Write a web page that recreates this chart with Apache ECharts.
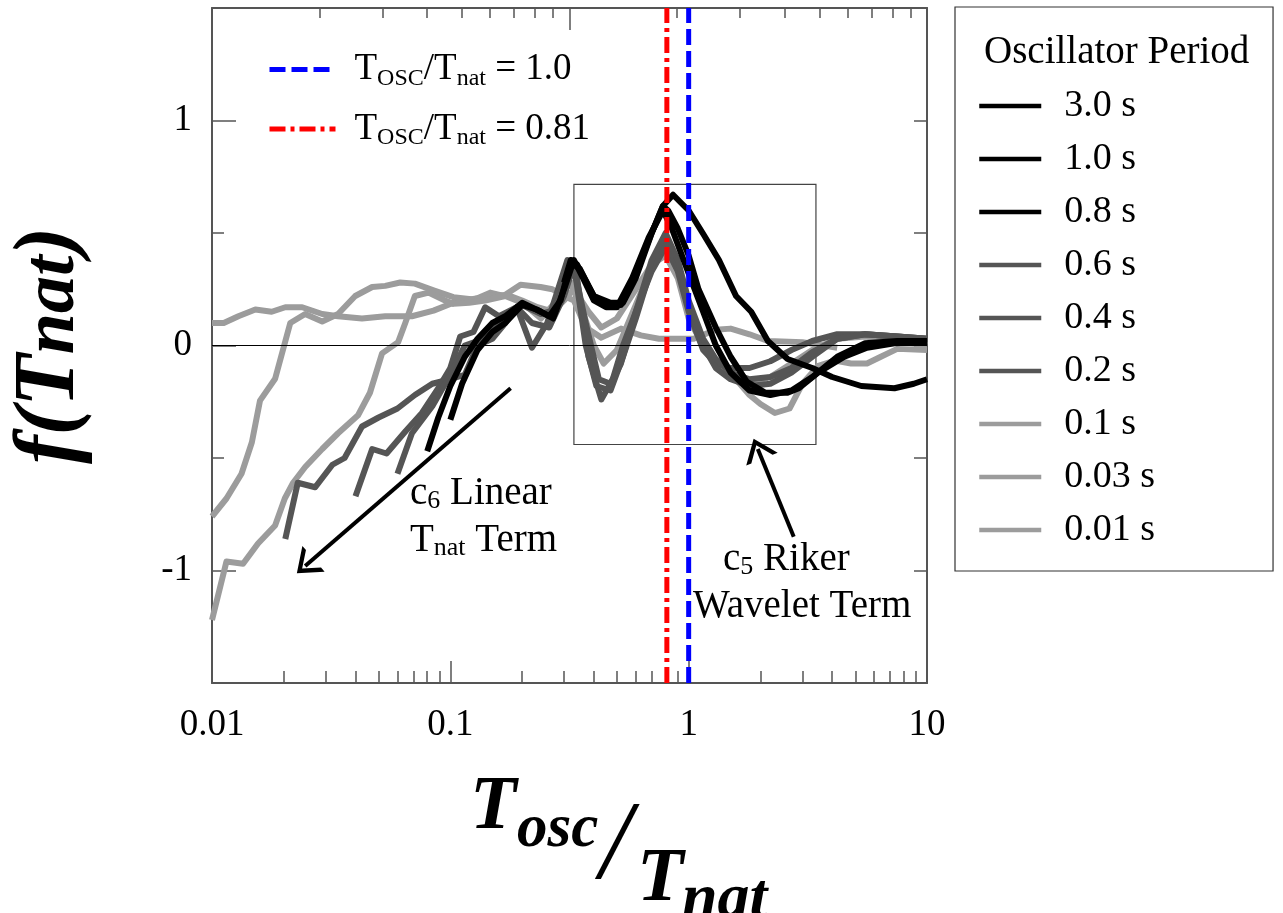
<!DOCTYPE html>
<html>
<head>
<meta charset="utf-8">
<title>f(Tnat)</title>
<script src="https://cdn.jsdelivr.net/npm/echarts@6/dist/echarts.min.js"></script>
</head>
<body style="margin:0;background:#fff">
<div id="chart" style="width:1283px;height:913px"></div>
<script>
// curves: [Tosc/Tnat, f(Tnat)] for each oscillator period
var p300 = [[0.30,0.28],[0.32,0.38],[0.34,0.36],[0.4,0.22],[0.47,0.19],[0.53,0.19],[0.6,0.3],[0.7,0.5],[0.78,0.62],[0.86,0.67],[1.0,0.6],[1.16,0.49],[1.34,0.38],[1.58,0.22],[1.83,0.15],[2.15,0.02],[2.6,-0.06],[3.3,-0.10],[4.0,-0.14],[5.3,-0.18],[7.3,-0.19],[8.8,-0.17],[10,-0.15]];
var p100 = [[0.1,-0.33],[0.112,-0.17],[0.13,-0.02],[0.15,0.06],[0.17,0.1],[0.2,0.18],[0.23,0.16],[0.26,0.13],[0.29,0.2],[0.32,0.37],[0.35,0.34],[0.4,0.22],[0.46,0.18],[0.52,0.18],[0.6,0.32],[0.7,0.5],[0.78,0.62],[0.82,0.6],[0.9,0.52],[1.0,0.4],[1.1,0.25],[1.3,0.08],[1.5,-0.05],[1.75,-0.16],[2.1,-0.21],[2.6,-0.21],[2.9,-0.19],[3.5,-0.12],[4.5,-0.05],[5.6,-0.01],[7.3,0.01],[10,0.015]];
var p080 = [[0.08,-0.47],[0.089,-0.32],[0.1,-0.18],[0.115,-0.05],[0.13,0.03],[0.15,0.1],[0.17,0.13],[0.2,0.19],[0.24,0.15],[0.27,0.12],[0.3,0.25],[0.33,0.38],[0.36,0.3],[0.4,0.2],[0.45,0.17],[0.5,0.17],[0.58,0.3],[0.68,0.48],[0.78,0.6],[0.85,0.52],[1.0,0.32],[1.15,0.15],[1.3,0.0],[1.5,-0.12],[1.8,-0.2],[2.2,-0.22],[2.7,-0.2],[3.3,-0.14],[4.2,-0.05],[5.5,0.01],[7.5,0.02],[10,0.02]];
var p060 = [[0.06,-0.57],[0.069,-0.39],[0.084,-0.27],[0.1,-0.13],[0.115,0.0],[0.13,0.02],[0.15,0.08],[0.18,0.15],[0.2,0.18],[0.24,0.14],[0.28,0.16],[0.33,0.35],[0.37,0.1],[0.42,-0.15],[0.47,-0.17],[0.52,-0.08],[0.6,0.15],[0.7,0.38],[0.8,0.5],[0.9,0.38],[1.0,0.2],[1.15,0.03],[1.3,-0.06],[1.5,-0.12],[1.8,-0.15],[2.2,-0.14],[2.7,-0.1],[3.3,-0.03],[4.2,0.03],[5.5,0.05],[7.5,0.04],[10,0.03]];
var p040 = [[0.04,-0.67],[0.047,-0.46],[0.054,-0.48],[0.065,-0.38],[0.076,-0.3],[0.089,-0.19],[0.1,-0.1],[0.11,0.04],[0.125,0.06],[0.14,0.17],[0.16,0.13],[0.19,0.17],[0.22,0.1],[0.26,0.08],[0.3,0.22],[0.33,0.36],[0.37,0.0],[0.41,-0.18],[0.47,-0.2],[0.53,-0.05],[0.6,0.12],[0.7,0.35],[0.8,0.47],[0.9,0.35],[1.0,0.18],[1.15,0.0],[1.3,-0.1],[1.5,-0.15],[1.8,-0.18],[2.2,-0.17],[2.7,-0.12],[3.3,-0.05],[4.2,0.03],[5.5,0.05],[7.5,0.04],[10,0.03]];
var p020 = [[0.0203,-0.86],[0.0229,-0.61],[0.0271,-0.63],[0.032,-0.53],[0.036,-0.5],[0.0426,-0.36],[0.05,-0.32],[0.06,-0.28],[0.071,-0.22],[0.084,-0.17],[0.1,-0.15],[0.115,-0.13],[0.13,0.0],[0.15,0.03],[0.17,0.1],[0.19,0.17],[0.22,-0.01],[0.255,0.1],[0.31,0.38],[0.34,0.3],[0.38,-0.05],[0.43,-0.24],[0.48,-0.15],[0.53,0.0],[0.6,0.15],[0.7,0.33],[0.8,0.44],[0.9,0.33],[1.0,0.15],[1.15,-0.02],[1.3,-0.08],[1.5,-0.1],[1.8,-0.1],[2.2,-0.07],[2.7,-0.02],[3.3,0.02],[4.2,0.05],[5.5,0.05],[7.5,0.04],[10,0.03]];
var p010 = [[0.01,-1.22],[0.0115,-0.96],[0.0135,-0.97],[0.0156,-0.88],[0.0184,-0.8],[0.0202,-0.68],[0.0219,-0.61],[0.0246,-0.54],[0.029,-0.46],[0.0338,-0.39],[0.041,-0.31],[0.046,-0.21],[0.0517,-0.035],[0.0604,0.015],[0.0647,0.1],[0.071,0.22],[0.081,0.235],[0.095,0.2],[0.103,0.185],[0.12,0.19],[0.14,0.2],[0.17,0.22],[0.2,0.19],[0.24,0.12],[0.28,0.2],[0.32,0.28],[0.36,0.15],[0.4,0.0],[0.44,-0.08],[0.5,-0.02],[0.6,0.18],[0.7,0.35],[0.8,0.45],[0.88,0.38],[1.0,0.18],[1.15,0.02],[1.35,-0.1],[1.55,-0.14],[1.8,-0.22],[2.0,-0.26],[2.3,-0.3],[2.65,-0.28],[3.0,-0.17],[3.5,-0.09],[4.1,-0.067],[4.8,-0.08],[5.6,-0.08],[6.4,-0.05],[7.5,-0.015],[10,-0.02]];
var p003 = [[0.01,-0.76],[0.0115,-0.68],[0.0133,-0.57],[0.0147,-0.43],[0.0159,-0.245],[0.0184,-0.148],[0.0213,0.1],[0.0246,0.14],[0.029,0.107],[0.0338,0.14],[0.0399,0.22],[0.047,0.26],[0.0533,0.265],[0.0616,0.28],[0.071,0.275],[0.085,0.245],[0.103,0.215],[0.125,0.205],[0.143,0.22],[0.173,0.225],[0.2,0.2],[0.232,0.17],[0.27,0.15],[0.3,0.2],[0.33,0.25],[0.38,0.15],[0.43,0.08],[0.5,0.12],[0.6,0.25],[0.7,0.36],[0.8,0.4],[0.9,0.3],[1.0,0.12],[1.15,0.0],[1.3,-0.08],[1.5,-0.14],[1.8,-0.17],[2.2,-0.14],[2.7,-0.08],[3.3,-0.02],[4.2,0.03],[5.5,0.04],[7.5,0.02],[10,0.0]];
var p001 = [[0.01,0.1],[0.0112,0.1],[0.0129,0.13],[0.0152,0.16],[0.0178,0.15],[0.0203,0.17],[0.0239,0.17],[0.029,0.14],[0.0338,0.13],[0.0426,0.12],[0.0533,0.13],[0.069,0.13],[0.085,0.155],[0.103,0.19],[0.13,0.21],[0.147,0.235],[0.167,0.22],[0.197,0.27],[0.239,0.26],[0.268,0.25],[0.3,0.22],[0.33,0.2],[0.37,0.08],[0.43,0.035],[0.52,0.075],[0.63,0.045],[0.75,0.03],[0.9,0.03],[1.05,0.03],[1.3,0.07],[1.5,0.075],[1.8,0.05],[2.15,0.02],[3.0,0.015],[4.2,-0.01]];

var periodNames = ['3.0 s', '1.0 s', '0.8 s', '0.6 s', '0.4 s', '0.2 s', '0.1 s', '0.03 s', '0.01 s'];
var periodData = [p300, p100, p080, p060, p040, p020, p010, p003, p001];
var periodColors = ['#000', '#000', '#000', '#555', '#555', '#555', '#9c9c9c', '#9c9c9c', '#9c9c9c'];

// vertical reference ratios
var refRatios = [1.0, 0.81];
var refNames = ['r10', 'r081'];
var refLabels = ['1.0', '0.81'];
var refColors = ['#0000ff', '#ff0000'];
var refDash = [[16, 6], [16, 5, 4, 5]];

var yRange = [-1.5, 1.5];
var yMajorTicks = [-1, 0, 1];
var bottomMinorTicks = [0.02,0.03,0.04,0.05,0.06,0.07,0.08,0.09,0.2,0.3,0.4,0.5,0.6,0.7,0.8,0.9,2,3,4,5,6,7,8,9];
var topMinorTicks = [2,3,4,5,6,7,8,9,20,30,40,50,60,70,80,90];

var waveletBox = [[0.33, -0.44], [3.42, 0.716]];
var arrowLinear = [[0.179, -0.19], [0.0246, -0.98]];
var arrowRiker = [[2.76, -0.85], [1.95, -0.46]];

var serif = 'Liberation Serif';
var chevron = 'path://M0,22L17,0L34,22L28.5,22L17,7L5.5,22Z';

var chart = echarts.init(document.getElementById('chart'));

var series = [];
// light curves first so the black ones end up on top
for (var i = periodData.length - 1; i >= 0; i--) {
  series.push({
    name: periodNames[i], type: 'line', data: periodData[i],
    symbol: 'none', z: 3,
    lineStyle: { color: periodColors[i], width: 6, join: 'round' },
    itemStyle: { color: periodColors[i] }
  });
}
for (var j = 0; j < refRatios.length; j++) {
  series.push({
    name: refNames[j], type: 'line', symbol: 'none', z: 5,
    data: [[refRatios[j], yRange[0]], [refRatios[j], yRange[1]]],
    lineStyle: { color: refColors[j], width: 5, type: refDash[j] },
    itemStyle: { color: refColors[j] }
  });
}
// zero line and wavelet box
series.push({
  name: 'marks', type: 'line', data: [], z: 2, silent: true,
  markLine: {
    silent: true, symbol: 'none', animation: false,
    label: { show: false },
    data: [{ yAxis: 0, lineStyle: { color: '#000', width: 1, type: 'solid' } }]
  },
  markArea: {
    silent: true,
    itemStyle: { color: 'rgba(0,0,0,0)', borderColor: '#444', borderWidth: 1.2 },
    data: [[{ coord: waveletBox[0] }, { coord: waveletBox[1] }]]
  }
});
// the two arrows
series.push({
  name: 'arrows', type: 'line', data: [], z: 6, silent: true,
  markLine: {
    silent: true, animation: false,
    symbol: ['none', chevron], symbolSize: [34, 22],
    label: { show: false },
    lineStyle: { color: '#000', width: 4, type: 'solid' },
    data: [
      [{ coord: arrowLinear[0] }, { coord: arrowLinear[1] }],
      [{ coord: arrowRiker[0] }, { coord: arrowRiker[1] }]
    ]
  }
});

var axisLine = { show: true, onZero: false, lineStyle: { color: '#555', width: 2 } };
var noLine = { show: false, onZero: false };
var tickStyle = { color: '#555', width: 1.5 };

var option = {
  animation: false,
  backgroundColor: '#fff',
  textStyle: { fontFamily: serif },
  title: {
    text: 'Oscillator Period', left: 979, top: 28,
    textStyle: { fontFamily: serif, fontSize: 39, fontWeight: 'normal', color: '#000' }
  },
  grid: { left: 212, top: 8, width: 715, height: 675 },
  legend: [
    {
      data: refNames, orient: 'vertical', left: 262, top: 46,
      itemWidth: 66, itemHeight: 14, itemGap: 20, selectedMode: false,
      itemStyle: { opacity: 0 },
      lineStyle: { width: 5 },
      formatter: function (n) {
        return '{t|T}{s|OSC}{t|/T}{s|nat}{t| = ' + refLabels[refNames.indexOf(n)] + '}';
      },
      textStyle: {
        padding: [0, 0, 0, 14],
        rich: {
          t: { fontFamily: serif, fontSize: 37, color: '#000', lineHeight: 44 },
          s: { fontFamily: serif, fontSize: 24, color: '#000', padding: [18, 0, 0, 0] }
        }
      }
    },
    {
      data: periodNames, orient: 'vertical', left: 955, top: 7,
      padding: [79, 118, 21, 22],
      borderColor: '#333', borderWidth: 1.2,
      itemWidth: 62, itemHeight: 14, itemGap: 13, selectedMode: false,
      itemStyle: { opacity: 0 },
      lineStyle: { width: 4.5 },
      textStyle: { fontFamily: serif, fontSize: 38, color: '#000', lineHeight: 40, padding: [0, 0, 0, 18] }
    }
  ],
  xAxis: [
    {
      type: 'log', logBase: 10, min: 0.01, max: 10, position: 'bottom',
      axisLine: axisLine,
      axisTick: { inside: true, length: 22, lineStyle: tickStyle },
      axisLabel: { fontFamily: serif, fontSize: 37, color: '#000', margin: 24 },
      splitLine: { show: false }
    },
    {
      type: 'log', logBase: 10, min: 0.01, max: 10, position: 'bottom',
      axisLine: noLine,
      axisTick: { inside: true, length: 12, customValues: bottomMinorTicks, lineStyle: tickStyle },
      axisLabel: { show: false }, splitLine: { show: false }
    },
    {
      type: 'log', logBase: 10, min: 1, max: 100, position: 'top',
      axisLine: axisLine,
      axisTick: { inside: true, length: 22, lineStyle: tickStyle },
      axisLabel: { show: false }, splitLine: { show: false }
    },
    {
      type: 'log', logBase: 10, min: 1, max: 100, position: 'top',
      axisLine: noLine,
      axisTick: { inside: true, length: 10, customValues: topMinorTicks, lineStyle: tickStyle },
      axisLabel: { show: false }, splitLine: { show: false }
    }
  ],
  yAxis: [
    {
      type: 'value', min: yRange[0], max: yRange[1], position: 'left',
      axisLine: axisLine,
      axisTick: { inside: true, length: 24, customValues: yMajorTicks, lineStyle: tickStyle },
      axisLabel: { customValues: yMajorTicks, fontFamily: serif, fontSize: 37, color: '#000', margin: 20 },
      splitLine: { show: false },
      name: '{a|f(T}{b|nat}{a|)}', nameLocation: 'middle', nameGap: 118, nameRotate: 90,
      nameTextStyle: {
        rich: {
          a: { fontFamily: serif, fontSize: 86, fontWeight: 'bold', fontStyle: 'italic', color: '#000' },
          b: { fontFamily: serif, fontSize: 74, fontWeight: 'bold', fontStyle: 'italic', color: '#000', padding: [6, 0, 0, 0] }
        }
      }
    },
    {
      type: 'value', min: yRange[0], max: yRange[1], interval: 0.5, position: 'left',
      axisLine: noLine,
      axisTick: { inside: true, length: 12, lineStyle: tickStyle },
      axisLabel: { show: false }, splitLine: { show: false }
    },
    {
      type: 'value', min: yRange[0], max: yRange[1], interval: 0.5, position: 'right',
      axisLine: axisLine,
      axisTick: { inside: true, length: 13, lineStyle: tickStyle },
      axisLabel: { show: false }, splitLine: { show: false }
    }
  ],
  graphic: [
    // x-axis title Tosc / Tnat
    { type: 'text', left: 470, top: 770, style: { text: 'T', font: 'italic bold 76px "Liberation Serif"', fill: '#000' } },
    { type: 'text', left: 517, top: 800, style: { text: 'osc', font: 'italic bold 61px "Liberation Serif"', fill: '#000' } },
    { type: 'text', left: 600, top: 793, style: { text: '/', font: 'italic 112px "Liberation Serif"', fill: '#000' } },
    { type: 'text', left: 637, top: 842, style: { text: 'T', font: 'italic bold 76px "Liberation Serif"', fill: '#000' } },
    { type: 'text', left: 682, top: 868, style: { text: 'nat', font: 'italic bold 64px "Liberation Serif"', fill: '#000' } },
    // annotations
    {
      type: 'text', left: 410, top: 474, z: 10,
      style: {
        text: '{a|c}{s|6}{a| Linear}\n{a|T}{s|nat}{a| Term}',
        rich: {
          a: { fontFamily: serif, fontSize: 39, fill: '#000', lineHeight: 47 },
          s: { fontFamily: serif, fontSize: 26, fill: '#000', padding: [16, 0, 0, 0] }
        }
      }
    },
    {
      type: 'text', left: 723, top: 540, z: 10,
      style: {
        text: '{a|c}{s|5}{a| Riker}',
        rich: {
          a: { fontFamily: serif, fontSize: 39, fill: '#000', lineHeight: 47 },
          s: { fontFamily: serif, fontSize: 26, fill: '#000', padding: [16, 0, 0, 0] }
        }
      }
    },
    {
      type: 'text', left: 693, top: 587, z: 10,
      style: { text: 'Wavelet Term', font: '39px "Liberation Serif"', fill: '#000' }
    }
  ],
  series: series
};

chart.setOption(option);
</script>
</body>
</html>
